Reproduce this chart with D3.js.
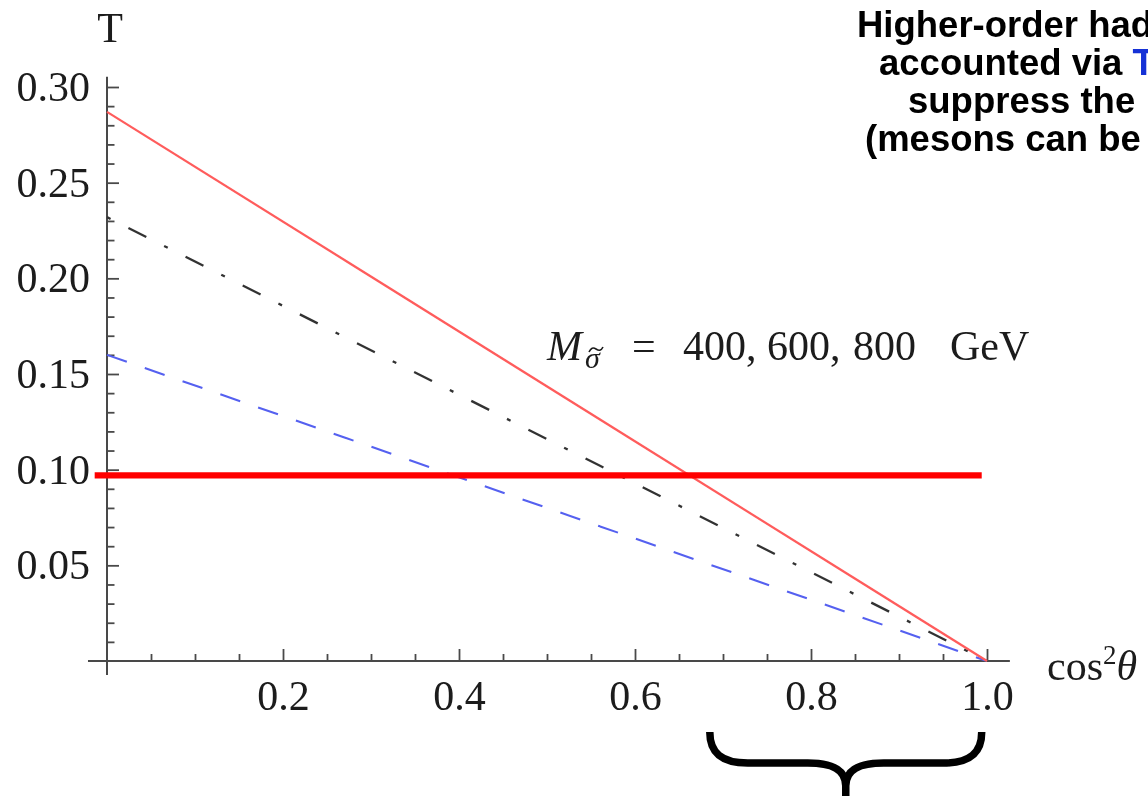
<!DOCTYPE html>
<html>
<head>
<meta charset="utf-8">
<script src="https://cdn.jsdelivr.net/npm/d3@7/dist/d3.min.js"></script>
<style>
  html, body { margin: 0; padding: 0; background: #fff; }
  svg { display: block; }
</style>
</head>
<body>
<svg id="chart" width="1148" height="796"></svg>
<script>
// T parameter versus cos^2(theta) for three sigma masses (all vanish at cos^2 = 1)
const masses = ["400 GeV", "600 GeV", "800 GeV"];
const cos2 = [0, 1];
const tRed = [0.287, 0];      // solid
const tBlack = [0.232, 0];    // dash-dot
const tBlue = [0.160, 0];     // dashed

// horizontal bound
const boundT = 0.097;
const boundRange = [-0.014, 0.994];

// axis ticks
const xMajor = [0.2, 0.4, 0.6, 0.8, 1.0];
const xMajorLabels = ["0.2", "0.4", "0.6", "0.8", "1.0"];
const xMinor = [0.05, 0.1, 0.15, 0.25, 0.3, 0.35, 0.45, 0.5, 0.55, 0.65, 0.7, 0.75, 0.85, 0.9, 0.95];
const yMajor = [0.05, 0.10, 0.15, 0.20, 0.25, 0.30];
const yMajorLabels = ["0.05", "0.10", "0.15", "0.20", "0.25", "0.30"];
const yMinor = [0.01, 0.02, 0.03, 0.04, 0.06, 0.07, 0.08, 0.09, 0.11, 0.12, 0.13, 0.14,
                0.16, 0.17, 0.18, 0.19, 0.21, 0.22, 0.23, 0.24, 0.26, 0.27, 0.28, 0.29];

// bracket under the high-cos^2 region
const braceRange = [0.685, 0.994];

// note at the top right (runs off the right edge of the page)
const noteLines = [
  [{t: "Higher-order had"}],
  [{t: "accounted via "}, {t: "T", blue: true}],
  [{t: "suppress the"}],
  [{t: "(mesons can be"}]
];
const noteStarts = [857, 879, 908, 865];

const svg = d3.select("#chart");
const serif = "'Liberation Serif', 'Times New Roman', serif";
const sans = "'Liberation Sans', Arial, sans-serif";

const x = d3.scaleLinear().domain([0, 1]).range([107, 987]);
const y = d3.scaleLinear().domain([0, 0.3]).range([661, 87]);

const defs = svg.append("defs");
defs.append("filter").attr("id", "soft")
  .append("feGaussianBlur").attr("stdDeviation", 0.6);

const plot = svg.append("g").attr("filter", "url(#soft)");

const axisColor = "#4a4a4a";

// axis lines (run a little past the data range)
plot.append("line")
  .attr("x1", x(0)).attr("x2", x(0))
  .attr("y1", y(-0.0073)).attr("y2", y(0.3053))
  .attr("stroke", axisColor).attr("stroke-width", 2);
plot.append("line")
  .attr("x1", x(-0.0216)).attr("x2", x(1.026))
  .attr("y1", y(0)).attr("y2", y(0))
  .attr("stroke", axisColor).attr("stroke-width", 2);

function styleAxis(g) {
  g.select(".domain").remove();
  g.selectAll(".tick line").attr("stroke", axisColor).attr("stroke-width", 1.8);
  g.selectAll(".tick text")
    .attr("fill", "#1a1a1a")
    .attr("font-family", serif)
    .attr("font-size", 42);
}

// y axis: major + minor, ticks pointing into the plot
plot.append("g").attr("transform", `translate(${x(0)},0)`)
  .call(d3.axisLeft(y).tickValues(yMajor).tickSize(-12).tickPadding(17)
    .tickFormat((d, i) => yMajorLabels[i]))
  .call(styleAxis);
plot.append("g").attr("transform", `translate(${x(0)},0)`)
  .call(d3.axisLeft(y).tickValues(yMinor).tickSize(-7.5).tickFormat(""))
  .call(styleAxis);

// x axis
plot.append("g").attr("transform", `translate(0,${y(0)})`)
  .call(d3.axisBottom(x).tickValues(xMajor).tickSize(-12).tickPadding(19)
    .tickFormat((d, i) => xMajorLabels[i]))
  .call(styleAxis);
plot.append("g").attr("transform", `translate(0,${y(0)})`)
  .call(d3.axisBottom(x).tickValues(xMinor).tickSize(-7).tickFormat(""))
  .call(styleAxis);

// axis labels
plot.append("text")
  .attr("x", x(0) + 3).attr("y", 42)
  .attr("text-anchor", "middle")
  .attr("font-family", serif).attr("font-size", 42).attr("fill", "#1a1a1a")
  .text("T");

const xl = plot.append("text")
  .attr("x", 1047).attr("y", 680)
  .attr("font-family", serif).attr("font-size", 42).attr("fill", "#1a1a1a");
xl.append("tspan").text("cos");
xl.append("tspan").attr("font-size", 27).attr("dy", -16).text("2");
xl.append("tspan").attr("dy", 16).attr("font-style", "italic").text("θ");

// curves
const line = d3.line().x(d => x(d[0])).y(d => y(d[1]));
const series = [
  {vals: tBlue, color: "#5561f0", width: 2.1, dash: "21,19", offset: 0},
  {vals: tBlack, color: "#333333", width: 2.3, dash: "20,20,4,20", offset: 40},
  {vals: tRed, color: "#ff5c5c", width: 2.2, dash: null, offset: 0}
];
series.forEach(s => {
  plot.append("path")
    .datum(cos2.map((c, i) => [c, s.vals[i]]))
    .attr("d", line)
    .attr("fill", "none")
    .attr("stroke", s.color)
    .attr("stroke-width", s.width)
    .attr("stroke-dasharray", s.dash)
    .attr("stroke-dashoffset", s.offset);
});

// horizontal bound
plot.append("path")
  .datum(boundRange.map(c => [c, boundT]))
  .attr("d", line)
  .attr("fill", "none")
  .attr("stroke", "#ff0000")
  .attr("stroke-width", 6.3);

// mass label: M with a tilde-sigma subscript
const ml = plot.append("text")
  .attr("y", 360)
  .attr("font-family", serif).attr("font-size", 42).attr("fill", "#1a1a1a");
ml.append("tspan").attr("x", 547).attr("font-style", "italic").text("M");
ml.append("tspan").attr("x", 585).attr("dy", 8).attr("font-size", 30)
  .attr("font-style", "italic").text("σ");
ml.append("tspan").attr("x", 632).attr("dy", -8).text("=");
ml.append("tspan").attr("x", 683).text("400,");
ml.append("tspan").attr("x", 767).text("600,");
ml.append("tspan").attr("x", 853).text("800");
ml.append("tspan").attr("x", 950).text("GeV");
// tilde accent over the subscript sigma
plot.append("path")
  .attr("d", "M589,352 C591,348 593,347 596,349 C599,351 601,351 603,347")
  .attr("fill", "none")
  .attr("stroke", "#1a1a1a")
  .attr("stroke-width", 1.6);

// brace
const bx0 = x(braceRange[0]), bx1 = x(braceRange[1]);
const bm = (bx0 + bx1) / 2;
const braceTop = 732, braceBar = 763, braceCusp = 786;
const brace = d3.path();
brace.moveTo(bx0, braceTop);
brace.bezierCurveTo(bx0, braceBar - 10, bx0 + 12, braceBar, bx0 + 38, braceBar);
brace.lineTo(bm - 38, braceBar);
brace.bezierCurveTo(bm - 14, braceBar, bm, braceBar + 6, bm, braceCusp);
brace.lineTo(bm, 800);
brace.moveTo(bx1, braceTop);
brace.bezierCurveTo(bx1, braceBar - 10, bx1 - 12, braceBar, bx1 - 38, braceBar);
brace.lineTo(bm + 38, braceBar);
brace.bezierCurveTo(bm + 14, braceBar, bm, braceBar + 6, bm, braceCusp);
svg.append("path")
  .attr("d", brace.toString())
  .attr("fill", "none")
  .attr("stroke", "#000")
  .attr("stroke-width", 7.5);

// note
const notes = svg.append("g")
  .attr("font-family", sans).attr("font-weight", "bold").attr("font-size", 36.5);
noteLines.forEach((parts, i) => {
  const t = notes.append("text").attr("x", noteStarts[i]).attr("y", 37 + i * 38);
  parts.forEach(p => {
    t.append("tspan").attr("fill", p.blue ? "#1531d6" : "#000").text(p.t);
  });
});
</script>
</body>
</html>
